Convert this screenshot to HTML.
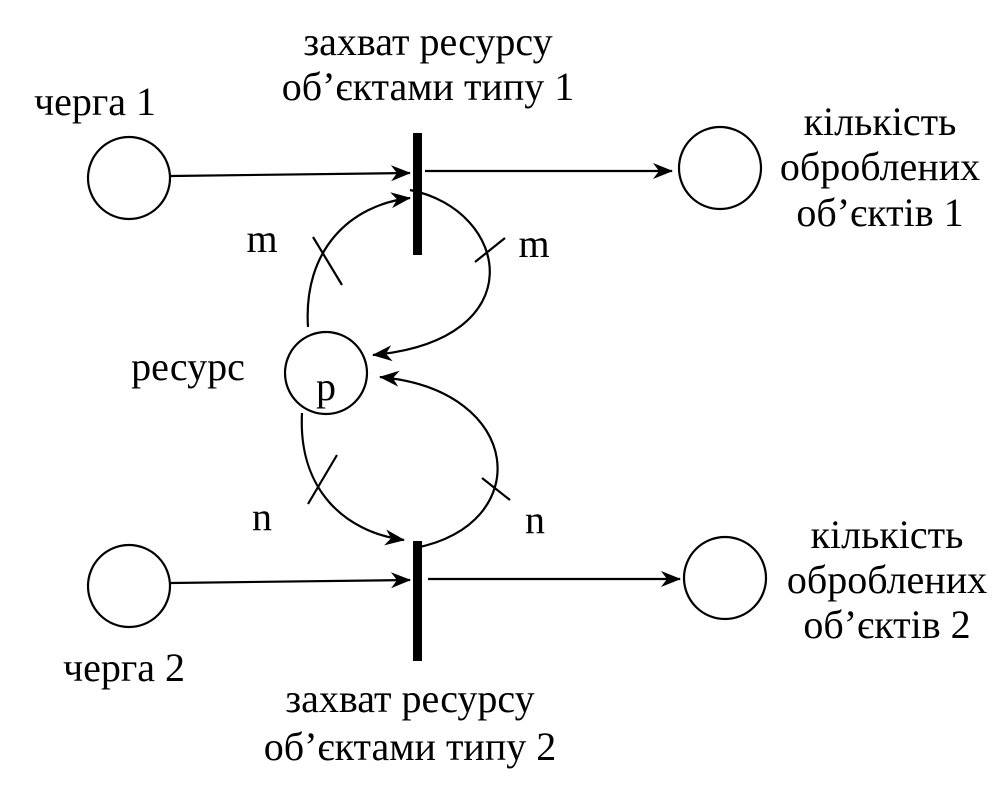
<!DOCTYPE html>
<html><head><meta charset="utf-8"><style>
body{margin:0;background:#fff}
svg{display:block}
text{font-family:"Liberation Serif","Times New Roman",serif;font-size:40px;fill:#000}
</style></head><body>
<svg width="1003" height="789" viewBox="0 0 1003 789">
<defs><marker id="ar" markerWidth="20" markerHeight="16" refX="19" refY="8" orient="auto" markerUnits="userSpaceOnUse"><path d="M0,0 L20,8 L0,16 L6,8 Z" fill="#000"/></marker></defs>
<g fill="none" stroke="#000" stroke-width="2.2">
<circle cx="129" cy="178" r="41"/>
<circle cx="129" cy="586" r="41"/>
<circle cx="720" cy="168" r="41"/>
<circle cx="725" cy="578" r="41"/>
<circle cx="326" cy="373" r="41"/>
<path d="M171,176 L410,173" marker-end="url(#ar)"/>
<path d="M425,171 L672,171" marker-end="url(#ar)"/>
<path d="M171,583 L410,580" marker-end="url(#ar)"/>
<path d="M428,579 L680,579" marker-end="url(#ar)"/>
<path d="M308,327 C303,250 350,205 410,198" marker-end="url(#ar)"/>
<path d="M410,190 C510,210 535,340 373,355" marker-end="url(#ar)"/>
<path d="M302,413 C298,490 345,532 404,540" marker-end="url(#ar)"/>
<path d="M415,548 C535,525 525,390 380,377" marker-end="url(#ar)"/>
<path d="M313,237 L342,285 M475,262 L505,238 M308,504 L337,455 M482,478 L510,500"/>
</g>
<rect x="413" y="133" width="9" height="122" fill="#000"/>
<rect x="413" y="541" width="9" height="120" fill="#000"/>
<text x="428" y="55" text-anchor="middle">захват ресурсу</text>
<text x="428" y="100" text-anchor="middle">об’єктами типу 1</text>
<text x="95" y="115" text-anchor="middle">черга 1</text>
<text x="880" y="135" text-anchor="middle">кількість</text>
<text x="880" y="180" text-anchor="middle">оброблених</text>
<text x="880" y="226" text-anchor="middle">об’єктів 1</text>
<text x="262" y="252" text-anchor="middle">m</text>
<text x="534" y="257" text-anchor="middle">m</text>
<text x="188" y="380" text-anchor="middle">ресурс</text>
<text x="326" y="400" text-anchor="middle">p</text>
<text x="262" y="530" text-anchor="middle">n</text>
<text x="535" y="533" text-anchor="middle">n</text>
<text x="887" y="548" text-anchor="middle">кількість</text>
<text x="887" y="593" text-anchor="middle">оброблених</text>
<text x="887" y="638" text-anchor="middle">об’єктів 2</text>
<text x="124" y="681" text-anchor="middle">черга 2</text>
<text x="410" y="712" text-anchor="middle">захват ресурсу</text>
<text x="410" y="760" text-anchor="middle">об’єктами типу 2</text>
</svg>
</body></html>
